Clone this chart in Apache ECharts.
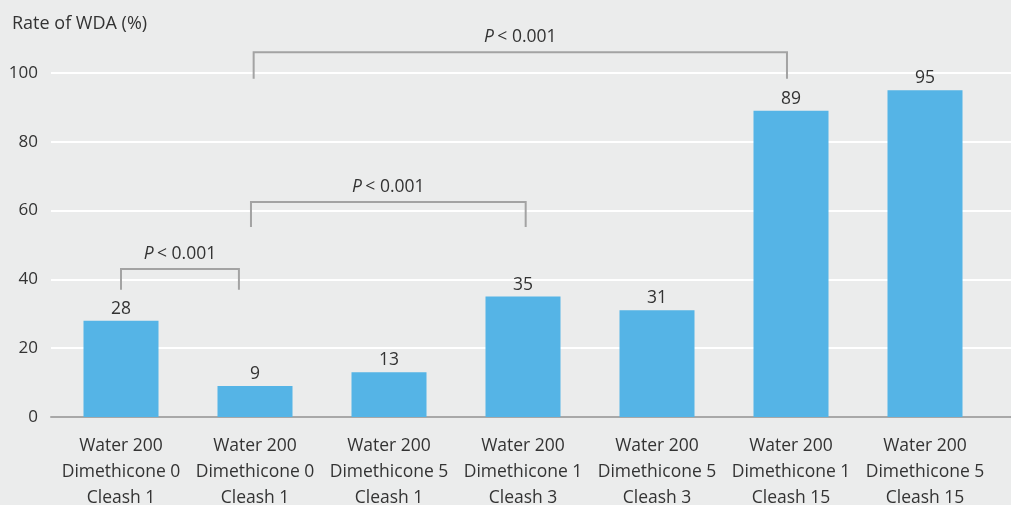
<!DOCTYPE html>
<html><head><meta charset="utf-8">
<script src="https://cdn.jsdelivr.net/npm/echarts@6/dist/echarts.min.js"></script>
<style>html,body{margin:0;padding:0;background:#ebecec;}#c{width:1011px;height:505px;}</style>
</head><body><div id="c"></div>
<script>
const categories = [
  'Water 200\nDimethicone 0\nCleash 1',
  'Water 200\nDimethicone 0\nCleash 1',
  'Water 200\nDimethicone 5\nCleash 1',
  'Water 200\nDimethicone 1\nCleash 3',
  'Water 200\nDimethicone 5\nCleash 3',
  'Water 200\nDimethicone 1\nCleash 15',
  'Water 200\nDimethicone 5\nCleash 15'
];
const rates = [28, 9, 13, 35, 31, 89, 95];
const yTicks = [0, 20, 40, 60, 80, 100];
// significance brackets: from/to in category positions, top and leg-end in data units
const bracketFrom = [0, 0.97, 0.99];
const bracketTo = [0.88, 3.02, 4.97];
const bracketTop = [43, 62.5, 106];
const bracketLeg = [37, 55.2, 98.3];
const bracketText = ['< 0.001', '< 0.001', '< 0.001'];

const FONT = '"Open Sans", "Noto Sans", sans-serif';
const TXT = '#333333';
const chart = echarts.init(document.getElementById('c'), null, {renderer: 'canvas'});
const option = {
  backgroundColor: '#ebecec',
  animation: false,
  textStyle: {fontFamily: FONT},
  grid: [
    {left: 51, right: 0, top: 73, bottom: 88, containLabel: false, outerBoundsMode: 'none'},
    {left: 54, right: 19, top: 73, bottom: 88, containLabel: false, outerBoundsMode: 'none'}
  ],
  xAxis: [
    {type: 'value', gridIndex: 0, min: 0, max: 1, show: true,
     axisLine: {show: true, lineStyle: {color: '#a8a8a8', width: 2}},
     axisTick: {show: false}, axisLabel: {show: false}, splitLine: {show: false}},
    {type: 'category', gridIndex: 1, data: categories,
     axisLine: {show: false}, axisTick: {show: false},
     axisLabel: {color: TXT, fontSize: 17.5, lineHeight: 26, margin: 16, interval: 0, fontFamily: FONT}}
  ],
  yAxis: [
    {type: 'value', gridIndex: 0, min: yTicks[0], max: yTicks[yTicks.length - 1], interval: 20,
     axisLine: {show: false}, axisTick: {show: false},
     axisLabel: {color: TXT, fontSize: 17, margin: 13, fontFamily: FONT},
     splitLine: {show: true, lineStyle: {color: '#ffffff', width: 2}}},
    {type: 'value', gridIndex: 1, min: yTicks[0], max: yTicks[yTicks.length - 1], interval: 20, show: false,
     splitLine: {show: false}}
  ],
  series: [{
    type: 'bar', xAxisIndex: 1, yAxisIndex: 1, data: rates, barWidth: 75,
    itemStyle: {color: '#55b4e6'},
    label: {show: true, position: 'top', distance: 3, color: TXT, fontSize: 17.5, fontFamily: FONT}
  }]
};
chart.setOption(option);

function xPix(pos) {
  const i = Math.floor(pos), f = pos - i;
  const a = chart.convertToPixel({xAxisIndex: 1}, i);
  const b = chart.convertToPixel({xAxisIndex: 1}, Math.min(i + 1, categories.length - 1));
  const step = (i + 1 < categories.length) ? (b - a) : (a - chart.convertToPixel({xAxisIndex: 1}, i - 1));
  return a + f * step;
}
function yPix(v) { return chart.convertToPixel({yAxisIndex: 1}, v); }

const elements = [{
  type: 'text', left: 12, top: 15,
  style: {text: 'Rate of WDA (%)', fill: TXT, font: '18px ' + FONT}
}];
for (let k = 0; k < bracketFrom.length; k++) {
  const x1 = xPix(bracketFrom[k]), x2 = xPix(bracketTo[k]);
  const yt = yPix(bracketTop[k]), yl = yPix(bracketLeg[k]);
  elements.push({
    type: 'polyline',
    shape: {points: [[x1, yl], [x1, yt], [x2, yt], [x2, yl]]},
    style: {stroke: '#a3a3a3', lineWidth: 2, fill: null}
  });
  elements.push({
    type: 'text', x: (x1 + x2) / 2, y: yt - 15,
    style: {
      text: '{i|P} {n|' + bracketText[k] + '}',
      align: 'center', verticalAlign: 'middle',
      rich: {
        i: {fontStyle: 'italic', fontSize: 17.5, fill: TXT, fontFamily: FONT},
        n: {fontSize: 17.5, fill: TXT, fontFamily: FONT}
      }
    }
  });
}
chart.setOption({graphic: {elements: elements}});
</script></body></html>
